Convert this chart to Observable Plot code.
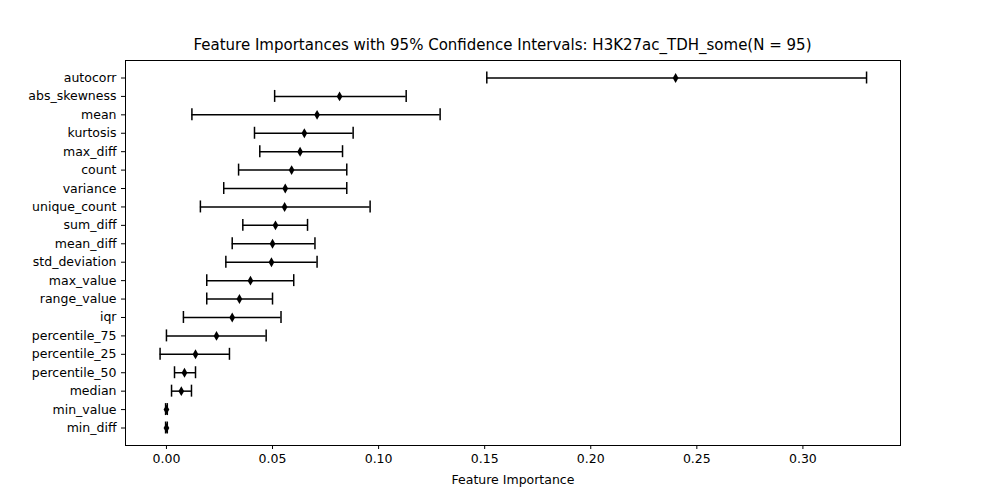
<!DOCTYPE html>
<html><head><meta charset="utf-8">
<script src="https://cdn.jsdelivr.net/npm/d3@7"></script>
<script src="https://cdn.jsdelivr.net/npm/@observablehq/plot@0.6"></script>
<style>
body{margin:0;background:#fff;font-family:"DejaVu Sans",sans-serif;}
#wrap{position:relative;width:1000px;height:500px;}
#title{position:absolute;top:36px;left:115px;width:775px;text-align:center;font-size:15px;}
#chart{position:absolute;top:0;left:0;}
</style></head><body>
<div id="wrap"><div id="chart"></div><div id="title">Feature Importances with 95% Confidence Intervals: H3K27ac_TDH_some(N = 95)</div></div>
<script>
const features = ["autocorr","abs_skewness","mean","kurtosis","max_diff","count","variance","unique_count","sum_diff","mean_diff","std_deviation","max_value","range_value","iqr","percentile_75","percentile_25","percentile_50","median","min_value","min_diff"];
const importance = [0.240,0.0816,0.071,0.065,0.063,0.059,0.056,0.0557,0.0514,0.050,0.0495,0.0396,0.0344,0.031,0.0236,0.0137,0.0085,0.007,0.0,0.0];
const ciLow = [0.151,0.051,0.012,0.0415,0.044,0.034,0.027,0.016,0.036,0.031,0.028,0.019,0.019,0.008,0.0,-0.003,0.0038,0.0024,-0.0004,-0.0004];
const ciHigh = [0.330,0.113,0.129,0.088,0.083,0.085,0.085,0.096,0.0665,0.070,0.071,0.060,0.050,0.054,0.047,0.0297,0.0137,0.0118,0.0004,0.0004];
const xTicks = [0,0.05,0.10,0.15,0.20,0.25,0.30];

const rows = features.map((f,i)=>({f, m:importance[i], lo:ciLow[i], hi:ciHigh[i]}));
const caps = rows.flatMap(r=>[{f:r.f,x:r.lo},{f:r.f,x:r.hi}]);

const plot = Plot.plot({
  width:1000, height:500,
  marginLeft:125, marginRight:100, marginTop:60, marginBottom:55,
  style:{fontFamily:"DejaVu Sans, sans-serif", fontSize:"12.5px", color:"#000"},
  x:{domain:[-0.0193,0.346], ticks:xTicks, tickFormat:d3.format(".2f"), label:"Feature Importance", labelArrow:false, labelAnchor:"center", labelOffset:38, tickSize:4},
  y:{type:"band", domain:features, paddingInner:0.35, paddingOuter:0.625, round:false, label:null, tickSize:4},
  marks:[
    Plot.frame({stroke:"#000"}),
    Plot.ruleY(rows,{y:"f", x1:"lo", x2:"hi", stroke:"#000", strokeWidth:1.5}),
    Plot.tickX(caps,{y:"f", x:"x", stroke:"#000", strokeWidth:1.5}),
    Plot.dot(rows,{y:"f", x:"m", r:3, fill:"#000", symbol:"diamond"})
  ]
});
document.getElementById("chart").appendChild(plot);
</script></body></html>
